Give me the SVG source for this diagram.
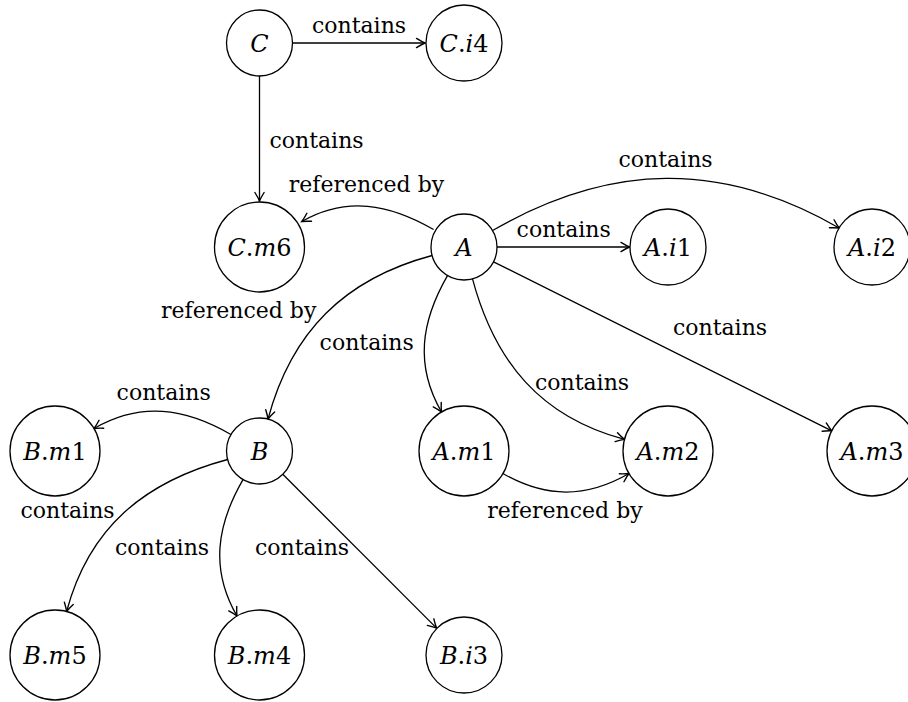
<svg xmlns="http://www.w3.org/2000/svg" width="908" height="702" viewBox="0 0 908 702">
<style>
.node circle { fill: #fff; stroke: #000; stroke-width: 1.3; }
.node text { font-family: "DejaVu Serif", serif; font-size: 24px; text-anchor: middle; fill: #000; }
.it { font-style: italic; }
.edge { fill: none; stroke: #000; stroke-width: 1.3; marker-end: url(#arr); }
.lbl { font-family: "DejaVu Serif", serif; font-size: 22px; text-anchor: middle; fill: #000; }
</style>
<defs>
<marker id="arr" markerUnits="userSpaceOnUse" markerWidth="14" markerHeight="14" viewBox="-11 -7 14 14" refX="0" refY="0" orient="auto" overflow="visible">
<path d="M -8.5 -4.6 Q -3 -1.2 0 0 Q -3 1.2 -8.5 4.6" fill="none" stroke="#000" stroke-width="1.4" stroke-linecap="round"/>
</marker>
</defs>
<rect width="908" height="702" fill="#fff"/>

<g id="connectors">
<path class="edge" d="M 292.5 43 L 425 43"/>
<path class="edge" d="M 259.5 76 L 259.5 201"/>
<path class="edge" d="M 433.6 229.5 C 388.9 203.7 346.2 196.1 301.8 221.5"/>
<path class="edge" d="M 492.6 230.5 C 610 162.7 721.7 160.4 839.1 228"/>
<path class="edge" d="M 497 247 L 629.5 247"/>
<path class="edge" d="M 493.5 261.8 L 831.8 430.9"/>
<path class="edge" d="M 447.5 275.6 C 420.8 321.9 414.8 365.7 441.5 412"/>
<path class="edge" d="M 472.5 278.9 C 494.9 362.5 540.9 417 624.5 439.4"/>
<path class="edge" d="M 432.1 255.5 C 344.6 278.9 291.4 331.6 268 419.1"/>
<path class="edge" d="M 502.9 473.5 C 545.6 498.2 586.3 498.2 629 473.5"/>
<path class="edge" d="M 230.9 434.5 C 184.5 407.7 140.4 401.7 94 428.5"/>
<path class="edge" d="M 227.6 459.5 C 143.9 481.9 89 527.8 66.6 611.5"/>
<path class="edge" d="M 243 479.6 C 216.3 525.8 210.3 569.8 237 616"/>
<path class="edge" d="M 282.8 474.3 L 436.6 628.1"/>
<g id="edge-labels">
<text class="lbl" x="359" y="33">contains</text>
<text class="lbl" x="316.5" y="148">contains</text>
<text class="lbl" x="366.5" y="192">referenced by</text>
<text class="lbl" x="665.5" y="167">contains</text>
<text class="lbl" x="563.7" y="237">contains</text>
<text class="lbl" x="720" y="335">contains</text>
<text class="lbl" x="238.7" y="318">referenced by</text>
<text class="lbl" x="366.7" y="350">contains</text>
<text class="lbl" x="582" y="390">contains</text>
<text class="lbl" x="163.7" y="400">contains</text>
<text class="lbl" x="565" y="518">referenced by</text>
<text class="lbl" x="67.5" y="518">contains</text>
<text class="lbl" x="162" y="555">contains</text>
<text class="lbl" x="302" y="555">contains</text>
</g>
</g>

<g id="C" class="node"><circle cx="259.5" cy="43" r="33"/><text x="259.5" y="51.5"><tspan class="it">C</tspan></text></g>
<g id="C.i4" class="node"><circle cx="464" cy="43" r="38"/><text x="464" y="51.5"><tspan class="it">C</tspan>.<tspan class="it">i</tspan>4</text></g>
<g id="C.m6" class="node"><circle cx="259.5" cy="247" r="45"/><text x="259.5" y="255.5"><tspan class="it">C</tspan>.<tspan class="it">m</tspan>6</text></g>
<g id="A" class="node"><circle cx="464" cy="247" r="33"/><text x="464" y="255.5"><tspan class="it">A</tspan></text></g>
<g id="A.i1" class="node"><circle cx="668" cy="247" r="38"/><text x="668" y="255.5"><tspan class="it">A</tspan>.<tspan class="it">i</tspan>1</text></g>
<g id="A.i2" class="node"><circle cx="872" cy="247" r="38"/><text x="872" y="255.5"><tspan class="it">A</tspan>.<tspan class="it">i</tspan>2</text></g>
<g id="B.m1" class="node"><circle cx="55" cy="451" r="45"/><text x="55" y="459.5"><tspan class="it">B</tspan>.<tspan class="it">m</tspan>1</text></g>
<g id="B" class="node"><circle cx="259.5" cy="451" r="33"/><text x="259.5" y="459.5"><tspan class="it">B</tspan></text></g>
<g id="A.m1" class="node"><circle cx="464" cy="451" r="45"/><text x="464" y="459.5"><tspan class="it">A</tspan>.<tspan class="it">m</tspan>1</text></g>
<g id="A.m2" class="node"><circle cx="668" cy="451" r="45"/><text x="668" y="459.5"><tspan class="it">A</tspan>.<tspan class="it">m</tspan>2</text></g>
<g id="A.m3" class="node"><circle cx="872" cy="451" r="45"/><text x="872" y="459.5"><tspan class="it">A</tspan>.<tspan class="it">m</tspan>3</text></g>
<g id="B.m5" class="node"><circle cx="55" cy="655" r="45"/><text x="55" y="663.5"><tspan class="it">B</tspan>.<tspan class="it">m</tspan>5</text></g>
<g id="B.m4" class="node"><circle cx="259.5" cy="655" r="45"/><text x="259.5" y="663.5"><tspan class="it">B</tspan>.<tspan class="it">m</tspan>4</text></g>
<g id="B.i3" class="node"><circle cx="464" cy="655" r="38"/><text x="464" y="663.5"><tspan class="it">B</tspan>.<tspan class="it">i</tspan>3</text></g>
</svg>
